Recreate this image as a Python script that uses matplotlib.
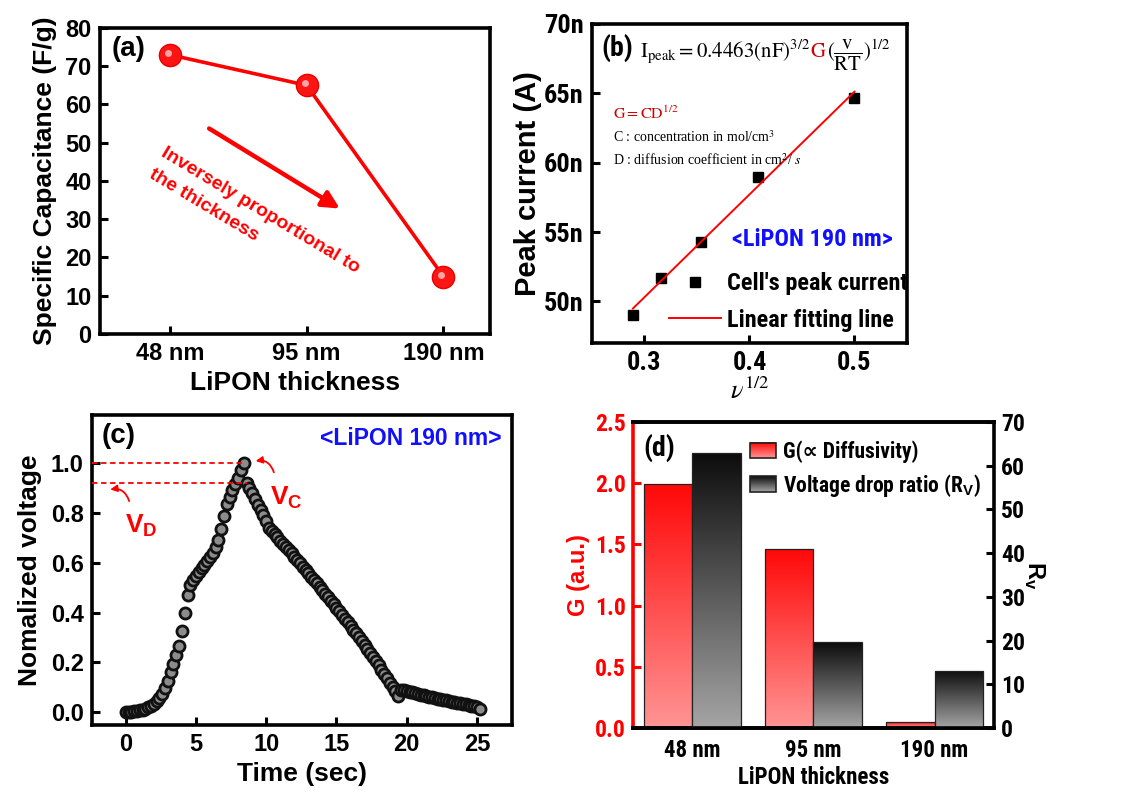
import numpy as np
import matplotlib
matplotlib.use('Agg')
import matplotlib.pyplot as plt
from matplotlib import font_manager as fm
from matplotlib.colors import LinearSegmentedColormap
from matplotlib.offsetbox import TextArea, HPacker, AnchoredOffsetbox
from matplotlib.legend_handler import HandlerBase
from matplotlib.image import BboxImage
from matplotlib.transforms import Bbox, TransformedBbox, offset_copy
from matplotlib.patches import Rectangle
from matplotlib.ticker import FuncFormatter

# ---------------- data ----------------
thickness_labels = ['48 nm', '95 nm', '190 nm']
capacitance = [73, 65, 15]

sqrt_scan_rate = [0.289, 0.316, 0.354, 0.408, 0.500]
peak_current = [49.0e-9, 51.7e-9, 54.3e-9, 59.0e-9, 64.7e-9]

charge_t = [0.0, 0.2, 0.4, 0.6, 0.8, 1.0, 1.2, 1.4, 1.6, 1.8, 2.0, 2.2, 2.4, 2.6, 2.8,
            3.0, 3.2, 3.4, 3.6, 3.8, 4.0, 4.2, 4.4, 4.6, 4.8, 5.0, 5.2, 5.4, 5.6, 5.8,
            6.0, 6.2, 6.4, 6.6, 6.8, 7.0, 7.2, 7.4, 7.6, 7.8, 8.0, 8.2, 8.4]
charge_v = [0.000, 0.002, 0.003, 0.004, 0.006, 0.008, 0.011, 0.015, 0.020, 0.027, 0.035,
            0.045, 0.058, 0.075, 0.097, 0.125, 0.160, 0.195, 0.228, 0.265, 0.325, 0.400,
            0.470, 0.510, 0.530, 0.548, 0.563, 0.577, 0.590, 0.605, 0.622, 0.640, 0.662,
            0.690, 0.735, 0.785, 0.835, 0.862, 0.890, 0.915, 0.940, 0.972, 1.000]
discharge_t = [8.6, 8.8, 9.0, 9.2, 9.4, 9.6, 9.8, 10.0, 10.2, 10.4, 10.6, 10.8, 11.0,
               11.2, 11.4, 11.6, 11.8, 12.0, 12.2, 12.4, 12.6, 12.8, 13.0, 13.2, 13.4,
               13.6, 13.8, 14.0, 14.2, 14.4, 14.6, 14.8, 15.0, 15.2, 15.4, 15.6, 15.8,
               16.0, 16.2, 16.4, 16.6, 16.8, 17.0, 17.2, 17.4, 17.6, 17.8, 18.0, 18.2,
               18.4, 18.6, 18.8, 19.0, 19.2, 19.4, 19.6, 19.8, 20.0, 20.2, 20.4, 20.6,
               20.8, 21.0, 21.2, 21.4, 21.6, 21.8, 22.0, 22.2, 22.4, 22.6, 22.8, 23.0,
               23.2, 23.4, 23.6, 23.8, 24.0, 24.2, 24.4, 24.6, 24.8, 25.0, 25.2]
discharge_v = [0.920, 0.900, 0.878, 0.855, 0.832, 0.810, 0.790, 0.768, 0.738, 0.726,
               0.714, 0.701, 0.688, 0.676, 0.663, 0.650, 0.637, 0.624, 0.610, 0.597,
               0.584, 0.570, 0.557, 0.544, 0.530, 0.517, 0.503, 0.489, 0.476, 0.462,
               0.448, 0.434, 0.420, 0.405, 0.391, 0.376, 0.362, 0.347, 0.332, 0.317,
               0.302, 0.286, 0.270, 0.254, 0.238, 0.222, 0.205, 0.188, 0.171, 0.154,
               0.137, 0.119, 0.102, 0.085, 0.067, 0.090, 0.088, 0.086, 0.083, 0.080,
               0.077, 0.074, 0.071, 0.068, 0.066, 0.063, 0.060, 0.058, 0.055, 0.053,
               0.050, 0.048, 0.045, 0.043, 0.041, 0.038, 0.036, 0.034, 0.032, 0.030,
               0.027, 0.025, 0.020, 0.015]

G_values = [1.99, 1.46, 0.05]
Rv_values = [63.0, 19.6, 13.1]

# ---------------- fonts ----------------
names = {f.name for f in fm.fontManager.ttflist}
REG = ['Liberation Sans', 'DejaVu Sans']
narrow_candidates = ['Liberation Sans Narrow', 'Arial Narrow', 'Roboto Condensed',
                     'DejaVu Sans Condensed', 'Noto Sans Condensed', 'Open Sans Condensed']
found = next((c for c in narrow_candidates if c in names), None)
if found:
    NARROW = [found, 'DejaVu Sans']
    SZ = dict(b_tick=19, b_leg=17.5, b_lipon=17.5, b_tag=20, d_ytick=17, d_xtick=16.5,
              d_xlab=16.5, d_leg=15.5, d_tag=20)
else:
    NARROW = REG
    SZ = dict(b_tick=16.5, b_leg=15, b_lipon=15, b_tag=18, d_ytick=16, d_xtick=15,
              d_xlab=15, d_leg=13.5, d_tag=18)

plt.rcParams['font.family'] = REG
plt.rcParams['font.weight'] = 'bold'
plt.rcParams['axes.labelweight'] = 'bold'
plt.rcParams['mathtext.fontset'] = 'custom'
plt.rcParams['mathtext.rm'] = 'Liberation Sans:bold'
plt.rcParams['mathtext.bf'] = 'Liberation Sans:bold'
plt.rcParams['mathtext.it'] = 'Liberation Sans:bold'

fig = plt.figure(figsize=(11.43, 7.92), dpi=100)


def frame(ax, lw=2.6):
    for s in ax.spines.values():
        s.set_linewidth(lw)


# ---------------- (a) ----------------
axA = fig.add_axes([0.0875, 0.5783, 0.3412, 0.3864])
xa = np.arange(len(thickness_labels))
axA.plot(xa, capacitance, '-', color='red', lw=2.6, zorder=2)
axA.plot(xa, capacitance, 'o', ms=16, mfc='#ff1414', mec='#e80000', mew=1, zorder=3)
hl = offset_copy(axA.transData, fig=fig, x=-1.5, y=1.5, units='points')
axA.plot(xa, capacitance, 'o', ms=5, mfc='#ffc0c0', mec='none', alpha=0.85,
         transform=hl, zorder=4)
axA.set_xlim(-0.51, 2.34)
axA.set_ylim(0, 80)
axA.set_xticks(xa, thickness_labels)
axA.set_yticks(range(0, 81, 10))
axA.tick_params(direction='in', length=6, width=2.2, labelsize=17, pad=6)
axA.set_ylabel('Specific Capacitance (F/g)', fontsize=19, labelpad=6)
axA.set_xlabel('LiPON thickness', fontsize=19, labelpad=4)
axA.text(0.03, 0.975, '(a)', transform=axA.transAxes, fontsize=20, va='top', ha='left')
axA.annotate('', xy=(1.26, 32.4), xytext=(0.27, 54.1),
             arrowprops=dict(arrowstyle='-|>', color='red', lw=3.2, mutation_scale=26))
axA.text(-0.02, 49.5, 'Inversely proportional to\nthe thickness', color='red',
         fontsize=14, rotation=-31, rotation_mode='anchor', ha='left', va='top',
         linespacing=1.6)
frame(axA)

# ---------------- (b) ----------------
axB = fig.add_axes([0.5179, 0.5669, 0.2756, 0.4028])
axB.plot(sqrt_scan_rate, peak_current, 's', color='black', ms=7.5, ls='none',
         label="Cell's peak current")
coef = np.polyfit(sqrt_scan_rate, peak_current, 1)
xf = np.array([min(sqrt_scan_rate), max(sqrt_scan_rate)])
axB.plot(xf, np.polyval(coef, xf), '-', color='red', lw=1.4, label='Linear fitting line')
axB.set_xlim(0.25, 0.55)
axB.set_ylim(47e-9, 70e-9)
axB.set_xticks([0.3, 0.4, 0.5])
axB.set_yticks([50e-9, 55e-9, 60e-9, 65e-9, 70e-9])
axB.yaxis.set_major_formatter(FuncFormatter(lambda v, p: f'{v * 1e9:.0f}n'))
axB.tick_params(direction='in', length=6, width=2.2, labelsize=SZ['b_tick'], pad=6)
for lab in axB.get_xticklabels() + axB.get_yticklabels():
    lab.set_fontfamily(NARROW)
axB.set_ylabel('Peak current (A)', fontsize=21, labelpad=1)
axB.set_xlabel(r'$\nu^{1/2}$', fontsize=19, math_fontfamily='stix', fontweight='normal',
               labelpad=2)
axB.text(0.03, 0.97, '(b)', transform=axB.transAxes, fontsize=SZ['b_tag'], va='top',
         fontfamily=NARROW)
axB.legend(loc='lower left', bbox_to_anchor=(0.245, 0.035), frameon=False,
           prop=dict(family=NARROW, size=SZ['b_leg'], weight='bold'), handlelength=2.15,
           handletextpad=0.25, labelspacing=0.55, borderaxespad=0, borderpad=0)
tp = dict(fontsize=15, math_fontfamily='stix', fontweight='normal')
t1 = TextArea(r'$\mathrm{I_{peak}=0.4463(nF)^{3/2}}$', textprops=dict(color='black', **tp))
t2 = TextArea(r'$\mathrm{G}$', textprops=dict(color='#d00000', **tp))
t3 = TextArea(r'$\mathrm{(\dfrac{v}{RT})^{1/2}}$', textprops=dict(color='black', **tp))
eq = HPacker(children=[t1, t2, t3], align='baseline', pad=0, sep=0)
axB.add_artist(AnchoredOffsetbox(loc='center', child=eq, pad=0, frameon=False,
                                 bbox_to_anchor=(0.55, 0.905),
                                 bbox_transform=axB.transAxes, borderpad=0))
axB.text(0.067, 0.72, r'$\mathrm{G = CD^{1/2}}$', transform=axB.transAxes,
         color='#d00000', fontsize=11.5, math_fontfamily='stix', fontweight='normal',
         va='center')
axB.text(0.067, 0.645, r'C : concentration in mol/cm$^{3}$', transform=axB.transAxes,
         fontsize=10, fontfamily='Liberation Serif', fontweight='normal',
         math_fontfamily='stix', va='center')
axB.text(0.067, 0.573, r'D : diffusion coefficient in cm$^{2}$/ $s$', transform=axB.transAxes,
         fontsize=10, fontfamily='Liberation Serif', fontweight='normal',
         math_fontfamily='stix', va='center')
axB.text(0.70, 0.323, '<LiPON 190 nm>', transform=axB.transAxes, color='#1010ff',
         fontsize=SZ['b_lipon'], fontfamily=NARROW, ha='center', va='center')
frame(axB)

# ---------------- (c) ----------------
axC = fig.add_axes([0.0805, 0.0846, 0.3675, 0.3914])
t_all = charge_t + discharge_t
v_all = charge_v + discharge_v
axC.plot(t_all, v_all, 'o', ls='none', ms=8, mfc='#8c8c8c', mec='#111111', mew=2.0)
axC.set_xlim(-2.4, 27.5)
axC.set_ylim(-0.05, 1.19)
axC.set_xticks([0, 5, 10, 15, 20, 25])
axC.set_yticks([0.0, 0.2, 0.4, 0.6, 0.8, 1.0])
axC.yaxis.set_major_formatter(FuncFormatter(lambda v, p: f'{v:.1f}'))
axC.tick_params(direction='in', length=6, width=2.2, labelsize=17, pad=6)
axC.set_ylabel('Nomalized voltage', fontsize=19, labelpad=6)
axC.set_xlabel('Time (sec)', fontsize=19, labelpad=4)
v_c = max(charge_v)
t_c = charge_t[charge_v.index(v_c)]
v_d = discharge_v[0]
t_d = discharge_t[0]
x0 = axC.get_xlim()[0]
axC.plot([x0, t_c], [v_c, v_c], '--', color='red', lw=1.3, dashes=(3, 2), zorder=3)
axC.plot([x0, t_d], [v_d, v_d], '--', color='red', lw=1.3, dashes=(3, 2), zorder=3)
axC.annotate('', xy=(9.05, 1.004), xytext=(10.6, 0.95),
             arrowprops=dict(arrowstyle='-|>', color='red', lw=1.3, mutation_scale=10,
                             connectionstyle='arc3,rad=0.5'))
axC.annotate('', xy=(-1.3, 0.89), xytext=(0.3, 0.835),
             arrowprops=dict(arrowstyle='-|>', color='red', lw=1.3, mutation_scale=10,
                             connectionstyle='arc3,rad=0.5'))
axC.text(11.4, 0.86, r'V$_\mathrm{C}$', color='red', fontsize=19, ha='center', va='center')
axC.text(1.1, 0.745, r'V$_\mathrm{D}$', color='red', fontsize=19, ha='center', va='center')
axC.text(0.024, 0.975, '(c)', transform=axC.transAxes, fontsize=20, va='top')
axC.text(0.976, 0.96, '<LiPON 190 nm>', transform=axC.transAxes, color='#1010ff',
         fontsize=16.5, ha='right', va='top')
frame(axC)

# ---------------- (d) ----------------
cmap_red = LinearSegmentedColormap.from_list('rg', ['#ff9494', '#ff0808'])
cmap_blk = LinearSegmentedColormap.from_list('kg', ['#a5a5a5', '#0c0c0c'])

axD = fig.add_axes([0.5538, 0.0808, 0.3158, 0.3864])
axD2 = axD.twinx()
xd = np.arange(len(thickness_labels))
w = 0.4
barsG = axD.bar(xd - w / 2, G_values, w, facecolor='none', edgecolor='#222222', lw=0.9)
barsR = axD2.bar(xd + w / 2, Rv_values, w, facecolor='none', edgecolor='#222222', lw=0.9)
grad = np.linspace(0, 1, 256).reshape(-1, 1)
for axis, bars, cm in ((axD, barsG, cmap_red), (axD2, barsR, cmap_blk)):
    for b in bars:
        bx, by, bw, bh = b.get_x(), b.get_y(), b.get_width(), b.get_height()
        im = axis.imshow(grad, extent=[bx, bx + bw, by, by + bh], origin='lower',
                         aspect='auto', cmap=cm, interpolation='bilinear', zorder=0.5)
        im.set_clip_path(b)
axD.set_xlim(-0.49, 2.49)
axD.set_ylim(0, 2.5)
axD2.set_ylim(0, 70)
axD.set_xticks(xd, thickness_labels)
axD.set_yticks([0, 0.5, 1.0, 1.5, 2.0, 2.5])
axD.yaxis.set_major_formatter(FuncFormatter(lambda v, p: f'{v:.1f}'))
axD2.set_yticks(range(0, 71, 10))
axD.tick_params(axis='y', direction='in', length=6, width=2.2, labelsize=SZ['d_ytick'],
                colors='red', pad=5)
axD.tick_params(axis='x', length=0, labelsize=SZ['d_xtick'], pad=8)
axD2.tick_params(axis='y', direction='in', length=6, width=2.2, labelsize=SZ['d_ytick'],
                 pad=5)
for lab in axD.get_xticklabels() + axD.get_yticklabels() + axD2.get_yticklabels():
    lab.set_fontfamily(NARROW)
axD.set_ylabel('G (a.u.)', color='red', fontsize=17, labelpad=4)
axD2.set_ylabel(r'R$_\mathrm{v}$', fontsize=17, rotation=270, labelpad=16)
axD.set_xlabel('LiPON thickness', fontsize=SZ['d_xlab'], fontfamily=NARROW, labelpad=3)
axD.text(0.03, 0.96, '(d)', transform=axD.transAxes, fontsize=SZ['d_tag'], va='top',
         fontfamily=NARROW)
for ax_ in (axD, axD2):
    frame(ax_)
axD.spines['left'].set_color('red')
axD2.spines['left'].set_visible(False)
axD.spines['right'].set_visible(False)


class GradHandler(HandlerBase):
    def __init__(self, cmap):
        super().__init__()
        self.cmap = cmap

    def create_artists(self, legend, orig_handle, xdescent, ydescent, width, height,
                       fontsize, trans):
        bb = Bbox.from_bounds(-xdescent, -ydescent, width, height)
        img = BboxImage(TransformedBbox(bb, trans), cmap=self.cmap,
                        interpolation='bilinear', origin='upper')
        img.set_data(np.linspace(1, 0, 64).reshape(-1, 1))
        rect = Rectangle((-xdescent, -ydescent), width, height, fill=False,
                         ec='#222222', lw=1.2, transform=trans)
        return [img, rect]


h1 = Rectangle((0, 0), 1, 1, label=r'G(∝ Diffusivity)')
h2 = Rectangle((0, 0), 1, 1, label=r'Voltage drop ratio (R$_\mathrm{V}$)')
dleg = SZ['d_leg']
axD2.legend(handles=[h1, h2], handler_map={h1: GradHandler(cmap_red), h2: GradHandler(cmap_blk)},
            loc='upper left', bbox_to_anchor=(0.324, 0.94), frameon=False,
            prop=dict(family=NARROW, size=dleg, weight='bold'),
            handlelength=26 / (dleg * 1.389), handleheight=16 / (dleg * 1.389),
            handletextpad=0.33, labelspacing=0.4, borderaxespad=0, borderpad=0)

# mathtext STIX glyphs are looked up at draw time: draw them in their regular weight
with plt.rc_context({'font.weight': 'normal'}):
    fig.savefig('out.png', dpi=100)
